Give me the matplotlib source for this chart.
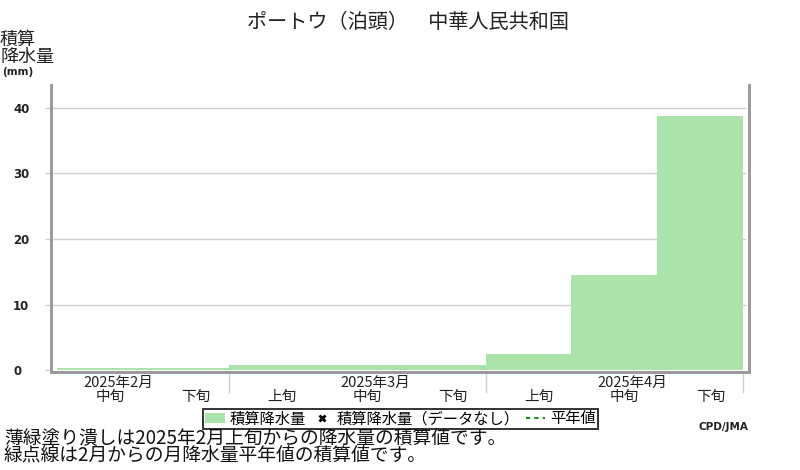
import matplotlib
matplotlib.use('Agg')
import matplotlib.pyplot as plt
from matplotlib.patches import Patch
from matplotlib.lines import Line2D

plt.rcParams['font.family'] = ['Noto Sans CJK JP', 'DejaVu Sans']

# 旬ごとの積算降水量 (mm)
dekads = ['中旬', '下旬', '上旬', '中旬', '下旬', '上旬', '中旬', '下旬']
months = ['2025年2月', '2025年3月', '2025年4月']
accum = [0.3, 0.3, 0.8, 0.8, 0.8, 2.5, 14.5, 38.7]
yticks = [0, 10, 20, 30, 40]

green = '#abe4ab'
grey = '#999999'
light = '#d0d0d0'

fig = plt.figure(figsize=(8, 4.7), dpi=100)
ax = fig.add_axes([51 / 800, 1 - 372 / 470, 698 / 800, 287 / 470])

xs = list(range(len(accum)))
ax.bar(xs, accum, width=1, align='edge', color=green, zorder=2)

ax.set_xlim(-0.07, len(accum) + 0.07)
ax.set_ylim(-0.3, 43.5)

for side in ['left', 'bottom', 'right']:
    ax.spines[side].set_color(grey)
    ax.spines[side].set_linewidth(2.1)
ax.spines['top'].set_visible(False)

ax.set_yticks(yticks)
ax.set_yticklabels([str(v) for v in yticks], fontfamily='DejaVu Sans',
                   fontweight='bold', fontsize=8.5, color='#222222')
ax.tick_params(axis='y', length=4.3, color=light, width=1, pad=23)
for lab in ax.get_yticklabels():
    lab.set_horizontalalignment('left')
for v in yticks[1:]:
    ax.axhline(v, xmin=0, xmax=0.994, color=light, lw=1, zorder=1)

# 月の境目
bounds = [i for i, d in enumerate(dekads) if d == '上旬'] + [len(dekads)]
ax.set_xticks(bounds)
ax.set_xticklabels([])
ax.tick_params(axis='x', length=15, color=light, width=1)

tr = ax.get_xaxis_transform()
for i, d in enumerate(dekads):
    ax.annotate(d, xy=(i + 0.62, 0), xycoords=tr, xytext=(0, -25 * 0.72),
                textcoords='offset points', ha='center', va='center',
                fontsize=10.5, color='#222222')
mids = [i for i, d in enumerate(dekads) if d == '中旬']
for m, i in zip(months, mids):
    ax.annotate(m, xy=(i + 0.71, 0), xycoords=tr, xytext=(0, -10.5 * 0.72),
                textcoords='offset points', ha='center', va='center',
                fontsize=10.5, color='#222222')

fig.text(408 / 800, 1 - 22 / 470, 'ポートウ（泊頭）　中華人民共和国',
         ha='center', va='center', fontsize=14.5, color='#222222')
fig.text(0, 1 - 31 / 470, '積算\n降水量', ha='left', va='top',
         fontsize=13, linespacing=0.92, color='#222222')
fig.text(2 / 800, 1 - 72 / 470, '(mm)', ha='left', va='center',
         fontfamily='DejaVu Sans', fontweight='bold', fontsize=7.5,
         color='#222222')

handles = [Patch(facecolor=green, edgecolor='none'),
           Line2D([], [], marker='x', color='black', linestyle='none',
                  markersize=5, markeredgewidth=2),
           Line2D([], [], color='#1a8a1a', linestyle=(0, (2, 2)), lw=1.5)]
labels = ['積算降水量', '積算降水量（データなし）', '平年値']
leg = fig.legend(handles, labels, loc='center', ncol=3,
                 bbox_to_anchor=(400.5 / 800, 1 - 419 / 470),
                 fontsize=11, frameon=True, fancybox=False,
                 handlelength=1.3, handleheight=0.6, handletextpad=0.3,
                 columnspacing=0.4, borderpad=0.12, borderaxespad=0)
leg.get_frame().set_edgecolor('black')
leg.get_frame().set_linewidth(1.4)

fig.text(748 / 800, 1 - 427 / 470, 'CPD/JMA', ha='right', va='center',
         fontfamily='DejaVu Sans', fontweight='bold', fontsize=7.5,
         color='#222222')

fig.text(4 / 800, 1 - 447 / 470,
         '薄緑塗り潰しは2025年2月上旬からの降水量の積算値です。\n'
         '緑点線は2月からの月降水量平年値の積算値です。',
         ha='left', va='center', fontsize=13.5, linespacing=0.78,
         color='#111111')

fig.savefig('out.png', dpi=100)
